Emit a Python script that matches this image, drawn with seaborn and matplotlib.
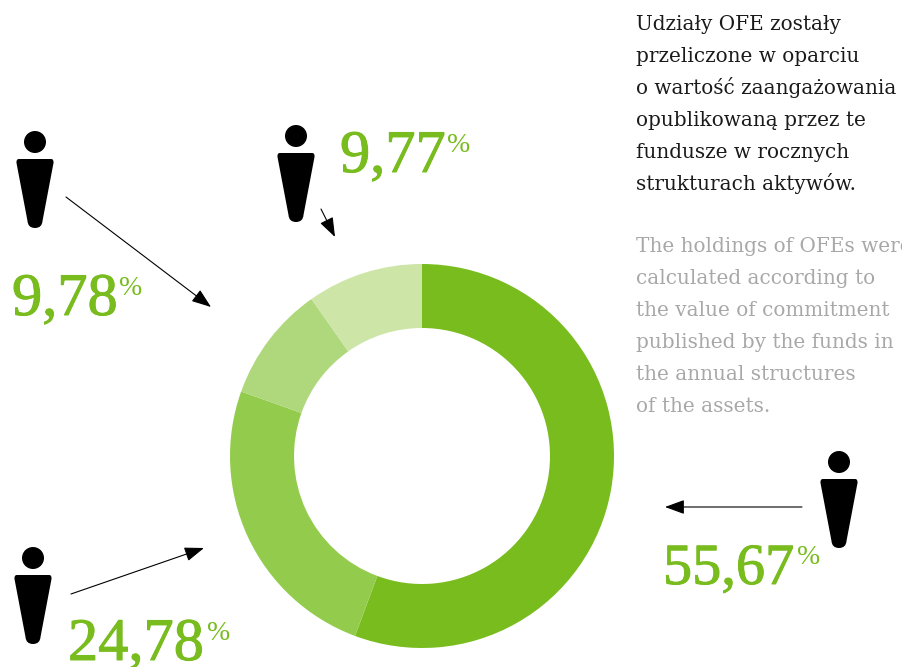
import matplotlib
matplotlib.use('Agg')
import matplotlib.pyplot as plt
import matplotlib.patheffects as pe
import seaborn as sns
from matplotlib.patches import Circle, PathPatch
from matplotlib.path import Path

shares = [55.67, 24.78, 9.78, 9.77]
ring_colors = ['#78bc1e', '#93cc4c', '#aed87b', '#cde5a6']

text_pl = ['Udziały OFE zostały', 'przeliczone w oparciu', 'o wartość zaangażowania',
           'opublikowaną przez te', 'fundusze w rocznych', 'strukturach aktywów.']
text_en = ['The holdings of OFEs were', 'calculated according to', 'the value of commitment',
           'published by the funds in', 'the annual structures', 'of the assets.']

W, H = 902, 667
GREEN = '#78bc1e'

sns.set_theme(style='white')
plt.rcParams['font.family'] = ['DejaVu Serif']

fig = plt.figure(figsize=(W / 100, H / 100), dpi=100)
ax = fig.add_axes([0, 0, 1, 1])
ax.set_xlim(0, W)
ax.set_ylim(H, 0)
ax.axis('off')

# donut gets its own axes, radius 192 px around (422, 456)
cx, cy, r = 422, 456, 192
pie_ax = fig.add_axes([(cx - r) / W, 1 - (cy + r) / H, 2 * r / W, 2 * r / H])
pie_ax.pie(shares, colors=ring_colors, startangle=90, counterclock=False,
           radius=1, wedgeprops={'width': 1 / 3, 'linewidth': 0})
pie_ax.set_xlim(-1, 1)
pie_ax.set_ylim(-1, 1)


def person(x, y):
    # x, y = centre of the head
    ax.add_patch(Circle((x, y), 11, color='black', lw=0))
    top, bot = y + 17, y + 86
    verts = [(x - 16, top), (x + 16, top), (x + 19, top), (x + 18.5, top + 4),
             (x + 7.5, bot - 7), (x + 7, bot), (x, bot),
             (x - 7, bot), (x - 7.5, bot - 7),
             (x - 18.5, top + 4), (x - 19, top), (x - 16, top), (x - 16, top)]
    codes = [Path.MOVETO, Path.LINETO, Path.CURVE3, Path.CURVE3, Path.LINETO,
             Path.CURVE3, Path.CURVE3, Path.CURVE3, Path.CURVE3, Path.LINETO,
             Path.CURVE3, Path.CURVE3, Path.CLOSEPOLY]
    ax.add_patch(PathPatch(Path(verts, codes), color='black', lw=0))


def arrow(start, end):
    ax.annotate('', xy=end, xytext=start,
                arrowprops=dict(arrowstyle='-|>,head_length=0.6,head_width=0.22',
                                color='black', lw=0.8,
                                mutation_scale=20, shrinkA=0, shrinkB=0))


def label(value, x, y, pct_x, size=43.5):
    txt = f'{value:.2f}'.replace('.', ',')
    t = ax.text(x, y, txt, color=GREEN, fontsize=size, family='Liberation Serif',
                ha='left', va='baseline')
    t.set_path_effects([pe.withStroke(linewidth=0.7, foreground=GREEN)])
    ax.text(pct_x, y - 20, '%', color=GREEN, fontsize=20, family='Liberation Serif',
            ha='left', va='baseline')


person(35, 142)
person(296, 136)
person(33, 558)
person(839, 462)

arrow((66, 197), (211, 307))
arrow((321, 209), (335, 237))
arrow((71, 594), (204, 548))
arrow((802, 507), (665, 507))

label(shares[2], 12, 315, 119)
label(shares[3], 340, 172, 447)
label(shares[1], 68, 660, 207)
label(shares[0], 663, 584, 797, size=42)

for i, line in enumerate(text_pl):
    ax.text(636, 30 + 32 * i, line, color='#1a1a1a', fontsize=14.4,
            ha='left', va='baseline')
for i, line in enumerate(text_en):
    ax.text(636, 252 + 32 * i, line, color='#a8a8a8', fontsize=14.4,
            ha='left', va='baseline')

fig.savefig('out.png', dpi=100)
